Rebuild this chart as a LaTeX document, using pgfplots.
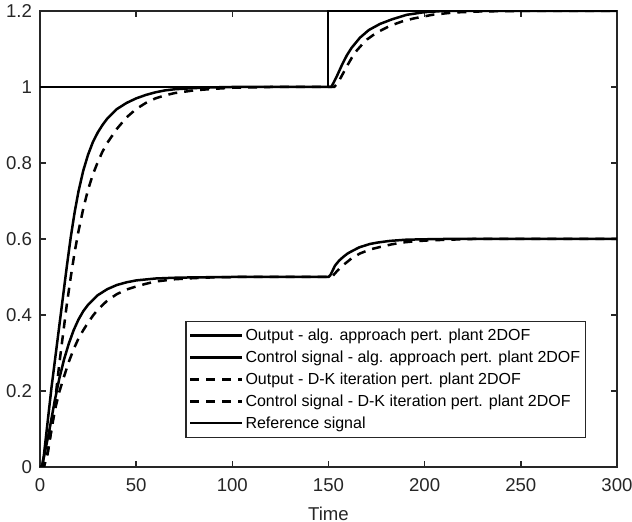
\documentclass[border=0pt]{standalone}
\usepackage{fontspec}
\setmainfont{Liberation Sans}
\usepackage{pgfplots}
\pgfplotsset{compat=1.18}

\definecolor{axgray}{rgb}{0.15,0.15,0.15}

\begin{document}
\begin{tikzpicture}
\begin{axis}[
  scale only axis,
  width=288.5pt, height=228pt,
  xmin=0, xmax=300, ymin=0, ymax=1.2,
  xtick={0,50,...,300},
  ytick={0,0.2,0.4,0.6,0.8,1,1.2},
  yticklabels={0,0.2,0.4,0.6,0.8,1,1.2},
  tick align=inside,
  major tick length=3pt,
  axis line style={axgray, line width=0.8pt},
  every tick/.style={axgray, line width=0.8pt},
  tick label style={font=\fontsize{9.3}{10}\selectfont, text=axgray},
  /pgf/number format/assume math mode=true,
  xticklabel style={yshift=-2pt},
  yticklabel style={xshift=-0.5pt},
  xlabel={Time},
  xlabel style={font=\fontsize{9.3}{10}\selectfont, text=axgray, yshift=-1pt},
  legend style={
    at={(0.946,0.0636)}, anchor=south east,
    draw=axgray, line width=0.6pt,
    font=\fontsize{8}{10}\selectfont,
    inner xsep=1.5pt, inner ysep=1.5pt,
    row sep=0pt,
    nodes={inner sep=1pt, text height=7pt, text depth=2pt},
  },
  legend cell align=left,
  legend image code/.code={\draw[#1] (0pt,0pt) -- (26pt,0pt);},
]

% output, algebraic approach
\addplot[black, line width=1.25pt, line join=round] coordinates {
(0,0)(1,0)(2,0.03)(4,0.12)(6,0.21)(8,0.29)(10,0.37)(12,0.45)(14,0.53)
(16,0.605)(18,0.67)(20,0.725)(22.5,0.78)(25,0.822)(27.5,0.855)(30,0.88)
(32.5,0.9)(35,0.917)(40,0.942)(45,0.958)(50,0.97)(55,0.979)(60,0.986)
(65,0.991)(70,0.994)(80,0.997)(90,0.999)(100,1)(150,1)(151.5,1)
(154.3,1.028)(157,1.058)(159.5,1.083)(162,1.103)(166.4,1.13)(171,1.15)
(176.8,1.166)(183,1.178)(190.7,1.19)(200,1.197)(210,1.2)(300,1.2)};
\addlegendentry{Output - alg. approach pert. plant 2DOF}

% control signal, algebraic approach
\addplot[black, line width=1.25pt, line join=round] coordinates {
(0,0)(1,0)(3,0.05)(5,0.1)(7.5,0.17)(10,0.232)(12.5,0.283)(15,0.325)
(17.5,0.36)(20,0.388)(22.5,0.41)(25,0.427)(30,0.452)(35,0.468)(40,0.479)
(45,0.486)(50,0.491)(60,0.496)(70,0.498)(80,0.499)(100,0.5)(150,0.5)
(151,0.505)(153.4,0.53)(155.5,0.543)(157.7,0.553)(160,0.562)(162.9,0.57)
(166,0.578)(171.6,0.587)(176,0.591)(182,0.595)(190,0.598)(197.6,0.599)
(210,0.6)(300,0.6)};
\addlegendentry{Control signal - alg. approach pert. plant 2DOF}

% output, D-K iteration
\addplot[black, line width=1.25pt, dash pattern=on 4.5pt off 3.5pt, line join=round] coordinates {
(0,0)(2,0)(4,0.04)(6,0.1)(8,0.18)(10,0.27)(12,0.35)(14,0.43)(16,0.5)
(18,0.565)(20,0.62)(22.5,0.68)(25,0.73)(27.5,0.77)(30,0.802)(32.5,0.83)
(35,0.853)(40,0.89)(45,0.92)(50,0.942)(55,0.958)(60,0.97)(65,0.978)
(70,0.984)(80,0.991)(90,0.995)(100,0.998)(120,1)(150,1)(153,1)
(155,1.012)(157.5,1.035)(159.5,1.054)(162,1.076)(164.7,1.096)
(167.5,1.112)(170,1.125)(175,1.143)(182,1.161)(188,1.172)(194,1.18)
(204,1.19)(215,1.196)(230,1.199)(250,1.2)(300,1.2)};
\addlegendentry{Output - D-K iteration pert. plant 2DOF}

% control signal, D-K iteration
\addplot[black, line width=1.25pt, dash pattern=on 4.5pt off 3.5pt, line join=round] coordinates {
(0,0)(2,0)(4,0.035)(6,0.1)(8,0.155)(10,0.197)(12.5,0.238)(15,0.277)
(17.5,0.31)(20,0.338)(22.5,0.36)(25,0.38)(27.5,0.398)(30,0.414)
(35,0.438)(40,0.455)(45,0.467)(50,0.475)(55,0.482)(60,0.488)(70,0.494)
(80,0.497)(90,0.499)(100,0.5)(150,0.5)(151.7,0.5)(154,0.513)(156,0.524)
(158.1,0.533)(162,0.549)(166.4,0.562)(172,0.573)(177.7,0.58)(183,0.586)
(188.9,0.591)(195,0.594)(201,0.596)(211.5,0.598)(225,0.6)(300,0.6)};
\addlegendentry{Control signal - D-K iteration pert. plant 2DOF}

% reference signal
\addplot[black, line width=1pt] coordinates {
(0,1)(150,1)(150,1.2)(300,1.2)};
\addlegendentry{Reference signal}

\end{axis}
\pgfresetboundingbox
\path[use as bounding box] (-20pt,-27.5pt) rectangle (296pt,233.5pt);
\end{tikzpicture}
\end{document}
